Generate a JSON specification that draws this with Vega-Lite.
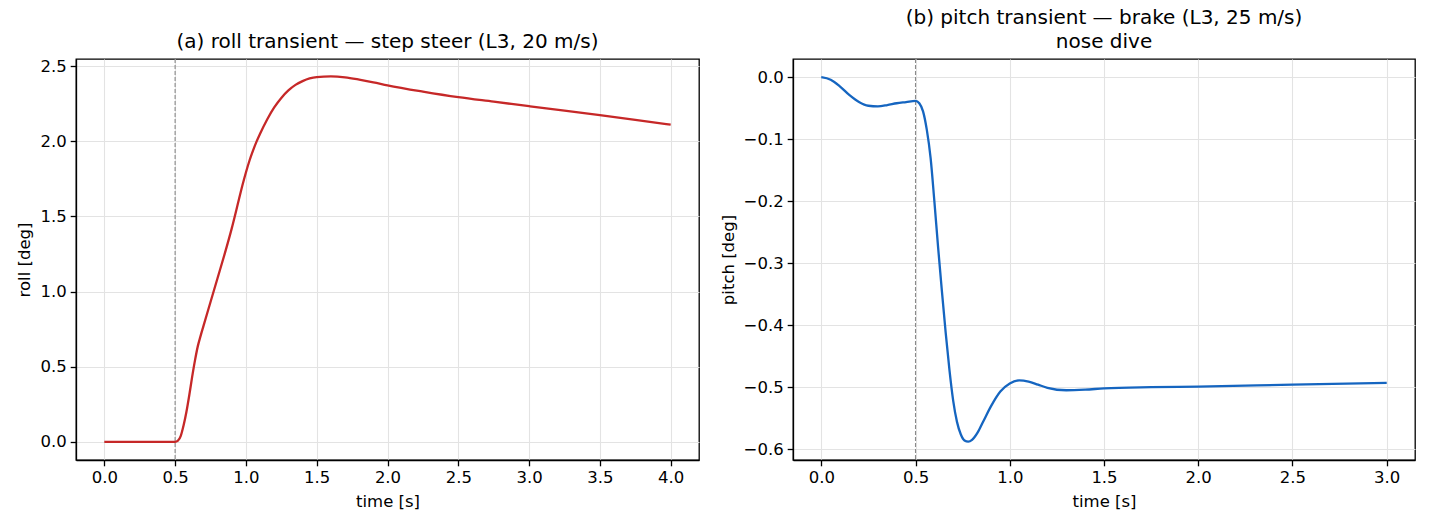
{
  "$schema": "https://vega.github.io/schema/vega-lite/v6.json",
  "background": "white",
  "padding": {"left": 16, "top": 7, "right": 5, "bottom": 5},
  "spacing": 19,
  "config": {
    "font": "DejaVu Sans",
    "view": {"stroke": "black", "strokeWidth": 1.3},
    "title": {"font": "DejaVu Sans", "fontSize": 20, "fontWeight": "normal", "color": "black", "anchor": "middle", "offset": 6, "lineHeight": 24},
    "axis": {
      "labelFont": "DejaVu Sans", "labelFontSize": 16.5, "labelColor": "black",
      "titleFont": "DejaVu Sans", "titleFontSize": 16.5, "titleFontWeight": "normal", "titleColor": "black",
      "tickColor": "black", "tickSize": 5.8, "tickWidth": 1.3, "labelPadding": 4,
      "domainColor": "black", "domainWidth": 1.3,
      "gridColor": "#e3e3e3", "gridWidth": 1.1, "titlePadding": 7, "labelFlush": false, "labelOverlap": false
    },
    "line": {"strokeWidth": 2.3, "interpolate": "monotone"}
  },
  "datasets": {
    "roll": [
      {"t": 0.0, "v": 0.0}, {"t": 0.1, "v": 0.0}, {"t": 0.2, "v": 0.0}, {"t": 0.3, "v": 0.0}, {"t": 0.4, "v": 0.0}, {"t": 0.5, "v": 0.0},
      {"t": 0.52, "v": 0.008}, {"t": 0.54, "v": 0.04}, {"t": 0.56, "v": 0.11}, {"t": 0.58, "v": 0.2}, {"t": 0.6, "v": 0.31},
      {"t": 0.62, "v": 0.43}, {"t": 0.64, "v": 0.54}, {"t": 0.66, "v": 0.635}, {"t": 0.68, "v": 0.705}, {"t": 0.7, "v": 0.77},
      {"t": 0.75, "v": 0.93}, {"t": 0.8, "v": 1.09}, {"t": 0.85, "v": 1.25}, {"t": 0.9, "v": 1.42}, {"t": 0.95, "v": 1.61},
      {"t": 0.975, "v": 1.705}, {"t": 1.0, "v": 1.792}, {"t": 1.025, "v": 1.87}, {"t": 1.05, "v": 1.937}, {"t": 1.075, "v": 1.997},
      {"t": 1.1, "v": 2.05}, {"t": 1.15, "v": 2.145}, {"t": 1.2, "v": 2.225},
      {"t": 1.25, "v": 2.288}, {"t": 1.3, "v": 2.338}, {"t": 1.35, "v": 2.375}, {"t": 1.4, "v": 2.4}, {"t": 1.45, "v": 2.418},
      {"t": 1.5, "v": 2.427}, {"t": 1.6, "v": 2.431}, {"t": 1.7, "v": 2.425}, {"t": 1.8, "v": 2.41}, {"t": 1.9, "v": 2.392},
      {"t": 2.0, "v": 2.372}, {"t": 2.25, "v": 2.33},
      {"t": 2.5, "v": 2.293}, {"t": 2.75, "v": 2.263}, {"t": 3.0, "v": 2.233}, {"t": 3.25, "v": 2.203}, {"t": 3.5, "v": 2.173},
      {"t": 3.75, "v": 2.142}, {"t": 4.0, "v": 2.11}
    ],
    "pitch": [
      {"t": 0.0, "v": 0.0}, {"t": 0.05, "v": -0.004}, {"t": 0.1, "v": -0.015}, {"t": 0.15, "v": -0.029}, {"t": 0.2, "v": -0.04},
      {"t": 0.25, "v": -0.046}, {"t": 0.3, "v": -0.047}, {"t": 0.35, "v": -0.045}, {"t": 0.4, "v": -0.042}, {"t": 0.45, "v": -0.04},
      {"t": 0.5, "v": -0.038}, {"t": 0.52, "v": -0.042}, {"t": 0.54, "v": -0.055}, {"t": 0.56, "v": -0.085}, {"t": 0.58, "v": -0.13},
      {"t": 0.6, "v": -0.2}, {"t": 0.62, "v": -0.275}, {"t": 0.64, "v": -0.345}, {"t": 0.66, "v": -0.412}, {"t": 0.68, "v": -0.472},
      {"t": 0.7, "v": -0.522}, {"t": 0.72, "v": -0.556}, {"t": 0.74, "v": -0.576}, {"t": 0.76, "v": -0.586}, {"t": 0.78, "v": -0.588},
      {"t": 0.8, "v": -0.585}, {"t": 0.83, "v": -0.573}, {"t": 0.86, "v": -0.555}, {"t": 0.9, "v": -0.531}, {"t": 0.95, "v": -0.507},
      {"t": 1.0, "v": -0.494}, {"t": 1.05, "v": -0.489}, {"t": 1.1, "v": -0.491}, {"t": 1.15, "v": -0.496}, {"t": 1.2, "v": -0.501},
      {"t": 1.3, "v": -0.505}, {"t": 1.4, "v": -0.504}, {"t": 1.5, "v": -0.502}, {"t": 1.75, "v": -0.5}, {"t": 2.0, "v": -0.499},
      {"t": 2.5, "v": -0.496}, {"t": 3.0, "v": -0.493}
    ],
    "event": [{"t": 0.5}]
  },
  "hconcat": [
    {
      "width": 623,
      "height": 401,
      "title": {"text": "(a) roll transient — step steer (L3, 20 m/s)"},
      "layer": [
        {
          "data": {"name": "event"},
          "mark": {"type": "rule", "color": "#8a8a8a", "strokeWidth": 1.1, "strokeDash": [4, 2]},
          "encoding": {"x": {"field": "t", "type": "quantitative", "scale": {"domain": [-0.2, 4.2], "nice": false, "zero": false}}}
        },
        {
          "data": {"name": "roll"},
          "mark": {"type": "line", "color": "#c62828"},
          "encoding": {
            "x": {"field": "t", "type": "quantitative", "title": "time [s]",
                  "scale": {"domain": [-0.2, 4.2], "nice": false, "zero": false},
                  "axis": {"values": [0, 0.5, 1, 1.5, 2, 2.5, 3, 3.5, 4], "format": ".1f"}},
            "y": {"field": "v", "type": "quantitative", "title": "roll [deg]",
                  "scale": {"domain": [-0.121, 2.547], "nice": false, "zero": false},
                  "axis": {"values": [0, 0.5, 1, 1.5, 2, 2.5], "format": ".1f"}}
          }
        }
      ]
    },
    {
      "width": 622,
      "height": 401,
      "title": {"text": ["(b) pitch transient — brake (L3, 25 m/s)", "nose dive"]},
      "layer": [
        {
          "data": {"name": "event"},
          "mark": {"type": "rule", "color": "#8a8a8a", "strokeWidth": 1.1, "strokeDash": [4, 2]},
          "encoding": {"x": {"field": "t", "type": "quantitative", "scale": {"domain": [-0.15, 3.15], "nice": false, "zero": false}}}
        },
        {
          "data": {"name": "pitch"},
          "mark": {"type": "line", "color": "#1565c0"},
          "encoding": {
            "x": {"field": "t", "type": "quantitative", "title": "time [s]",
                  "scale": {"domain": [-0.15, 3.15], "nice": false, "zero": false},
                  "axis": {"values": [0, 0.5, 1, 1.5, 2, 2.5, 3], "format": ".1f"}},
            "y": {"field": "v", "type": "quantitative", "title": "pitch [deg]",
                  "scale": {"domain": [-0.6175, 0.0294], "nice": false, "zero": false},
                  "axis": {"values": [-0.6, -0.5, -0.4, -0.3, -0.2, -0.1, 0], "format": ".1f"}}
          }
        }
      ]
    }
  ]
}
